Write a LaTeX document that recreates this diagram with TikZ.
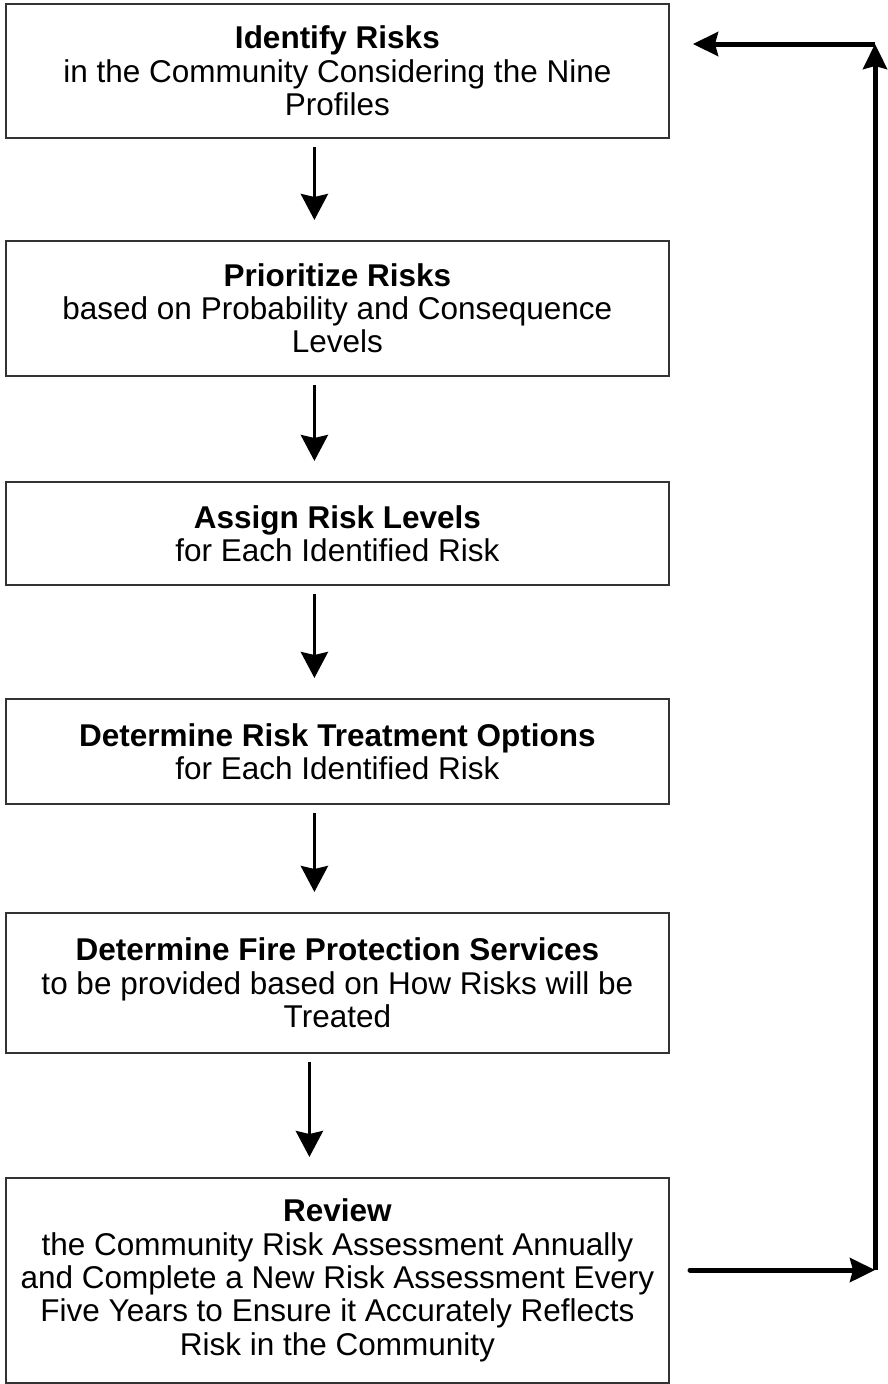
\documentclass[tikz,border=0pt]{standalone}
\usepackage{fontspec}
\setmainfont{Liberation Sans}
\usetikzlibrary{arrows.meta}
\begin{document}
\begin{tikzpicture}[x=1pt,y=-1pt,
  stepbox/.style={draw=black!80,line width=1.8pt,minimum width=663pt,inner sep=0pt,align=center,
    font=\fontsize{31.5}{33.3}\selectfont,anchor=north west},
  flow/.style={line width=3.8pt,-{Stealth[length=26pt,width=27pt,inset=3pt]},shorten <=8pt,shorten >=20pt},
  fb/.style={line width=5pt,-{Stealth[length=25pt,width=24pt,inset=3pt]}}]
\useasboundingbox (0,0) rectangle (887,1384);
\node[stepbox,minimum height=134pt] (b1) at (5,3) {\textbf{Identify Risks}\\in the Community Considering the Nine\\Profiles};
\node[stepbox,minimum height=135pt] (b2) at (5,240) {\textbf{Prioritize Risks}\\based on Probability and Consequence\\Levels};
\node[stepbox,minimum height=103pt] (b3) at (5,481) {\textbf{Assign Risk Levels}\\for Each Identified Risk};
\node[stepbox,minimum height=105pt] (b4) at (5,698) {\textbf{Determine Risk Treatment Options}\\for Each Identified Risk};
\node[stepbox,minimum height=140pt] (b5) at (5,912) {\textbf{Determine Fire Protection Services}\\to be provided based on How Risks will be\\Treated};
\node[stepbox,minimum height=205pt] (b6) at (5,1177) {\textbf{Review}\\the Community Risk Assessment Annually\\and Complete a New Risk Assessment Every\\Five Years to Ensure it Accurately Reflects\\Risk in the Community};
\foreach \a/\b in {b1/b2,b2/b3,b3/b4,b4/b5}
  \draw[flow] ([xshift=-23pt]\a.south) -- ([xshift=-23pt]\b.north);
\draw[flow] ([xshift=-28pt]b5.south) -- ([xshift=-28pt]b6.north);
\coordinate (fs) at (690,1270);
\coordinate (fc) at (875,1270);
\coordinate (ft) at (875,44);
\coordinate (fe) at (693,44);
\draw[fb,line cap=round] (fs) -- (fc);
\draw[fb] (fc) -- (ft);
\draw[fb] (ft) -- (fe);
\end{tikzpicture}
\end{document}
